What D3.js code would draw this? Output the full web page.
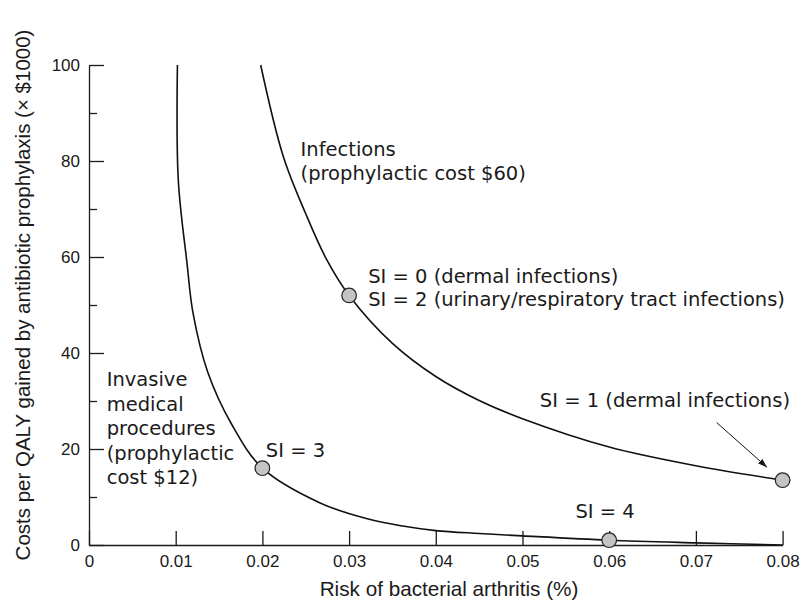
<!DOCTYPE html>
<html>
<head>
    <meta charset="utf-8">
    <script src="https://d3js.org/d3.v7.min.js"></script>
    <style>
        body { margin: 0; background: #fff; }
        text { fill: #1a1a1a; }
    </style>
</head>
<body>
<script>
    // risk of bacterial arthritis (%) vs cost per QALY (x $1000)
    let invasiveRisk = [0.0102, 0.0103, 0.0113, 0.0120, 0.0137, 0.0165, 0.0200, 0.0266, 0.0320, 0.0360, 0.0400, 0.0450, 0.0500, 0.0600, 0.0700, 0.0800];
    let invasiveCost = [100, 76.0, 58.8, 48.3, 36.0, 25.0, 16.0, 8.8, 5.5, 4.0, 3.0, 2.4, 1.9, 1.0, 0.45, 0];

    let infectRisk = [0.0198, 0.0224, 0.0250, 0.0274, 0.0300, 0.0350, 0.0400, 0.0450, 0.0500, 0.0600, 0.0700, 0.0800];
    let infectCost = [100, 81.0, 69.0, 59.5, 52.0, 42.0, 35.1, 30.1, 26.3, 20.4, 16.5, 13.5];

    // the marked SI points
    let siRisk = [0.02, 0.03, 0.06, 0.08];
    let siCost = [16, 52, 1, 13.5];

    let xTicks = [0, 0.01, 0.02, 0.03, 0.04, 0.05, 0.06, 0.07, 0.08];
    let xTickLabels = ["0", "0.01", "0.02", "0.03", "0.04", "0.05", "0.06", "0.07", "0.08"];
    let yTicks = [0, 20, 40, 60, 80, 100];
    let yTickLabels = ["0", "20", "40", "60", "80", "100"];
    let yMinorTicks = [10, 30, 50, 70, 90];

    let width = 802, height = 601;
    let axisFont = "'Liberation Sans', Arial, sans-serif";
    let noteFont = "'DejaVu Sans', sans-serif";

    let svg = d3.select("body").append("svg")
        .attr("width", width)
        .attr("height", height);

    let x = d3.scaleLinear().domain([0, 0.08]).range([89, 782.6]);
    let y = d3.scaleLinear().domain([0, 100]).range([545, 65]);

    // axes, ticks pointing inwards
    let xAxis = d3.axisBottom(x)
        .tickValues(xTicks)
        .tickFormat((d, i) => xTickLabels[i])
        .tickSizeInner(-14)
        .tickSizeOuter(0)
        .tickPadding(10);
    let gx = svg.append("g").attr("transform", "translate(0,545)").call(xAxis);

    let yAxis = d3.axisLeft(y)
        .tickValues(yTicks)
        .tickFormat((d, i) => yTickLabels[i])
        .tickSizeInner(-15)
        .tickSizeOuter(0)
        .tickPadding(9);
    let gy = svg.append("g").attr("transform", "translate(89,0)").call(yAxis);

    let gyMinor = svg.append("g").attr("transform", "translate(89,0)")
        .call(d3.axisLeft(y).tickValues(yMinorTicks).tickSizeInner(-8).tickSizeOuter(0).tickFormat(""));
    gyMinor.select(".domain").remove();

    [gx, gy, gyMinor].forEach(g => {
        g.selectAll("path, line").attr("stroke", "#1a1a1a").attr("stroke-width", 1.3);
        g.selectAll("text").style("font-size", "17px").style("font-family", axisFont).style("fill", "#1a1a1a");
    });

    // axis titles
    svg.append("text")
        .attr("x", 449).attr("y", 596)
        .attr("text-anchor", "middle")
        .style("font-family", axisFont)
        .style("font-size", "20.7px")
        .text("Risk of bacterial arthritis (%)");

    svg.append("text")
        .attr("transform", "translate(30,295) rotate(-90)")
        .attr("text-anchor", "middle")
        .style("font-family", axisFont)
        .style("font-size", "20.5px")
        .text("Costs per QALY gained by antibiotic prophylaxis (\u00d7 $1000)");

    // curves
    let line = d3.line()
        .x(d => x(d[0]))
        .y(d => y(d[1]))
        .curve(d3.curveCatmullRom.alpha(0.5));

    let invasive = d3.zip(invasiveRisk, invasiveCost);
    let infect = d3.zip(infectRisk, infectCost);

    svg.selectAll("path.curve")
        .data([invasive, infect])
        .join("path")
        .attr("class", "curve")
        .attr("d", line)
        .attr("fill", "none")
        .attr("stroke", "#111")
        .attr("stroke-width", 1.6);

    // arrow to SI = 1
    svg.append("defs").append("marker")
        .attr("id", "head")
        .attr("viewBox", "0 0 10 10")
        .attr("refX", 10).attr("refY", 5)
        .attr("markerWidth", 9).attr("markerHeight", 9)
        .attr("markerUnits", "userSpaceOnUse")
        .attr("orient", "auto")
        .append("path")
        .attr("d", "M0,1.5 L10,5 L0,8.5 Z")
        .attr("fill", "#111");

    svg.append("line")
        .attr("x1", x(0.0724)).attr("y1", y(25.5))
        .attr("x2", x(0.0782)).attr("y2", y(16.2))
        .attr("stroke", "#111")
        .attr("stroke-width", 1)
        .attr("marker-end", "url(#head)");

    // SI points
    svg.selectAll("circle")
        .data(d3.zip(siRisk, siCost))
        .join("circle")
        .attr("cx", d => x(d[0]))
        .attr("cy", d => y(d[1]))
        .attr("r", 7.3)
        .attr("fill", "#c4c4c4")
        .attr("stroke", "#222")
        .attr("stroke-width", 1.2);

    // annotations: anchor in data units, extra lines step down in px
    let notes = [
        { at: [0.0244, 81.1], lines: ["Infections", "(prophylactic cost $60)"], step: 24 },
        { at: [0.0322, 54.6], lines: ["SI = 0 (dermal infections)", "SI = 2 (urinary/respiratory tract infections)"], step: 23.5 },
        { at: [0.0520, 28.75], lines: ["SI = 1 (dermal infections)"], step: 0 },
        { at: [0.0204, 18.4], lines: ["SI = 3"], step: 0 },
        { at: [0.0561, 5.56], lines: ["SI = 4"], step: 0 },
        { at: [0.00204, 33.1], lines: ["Invasive", "medical", "procedures", "(prophylactic", "cost $12)"], step: 24.5 }
    ];

    notes.forEach(n => {
        let t = svg.append("text")
            .attr("x", x(n.at[0]))
            .attr("y", y(n.at[1]))
            .style("font-family", noteFont)
            .style("font-size", "19.5px");
        n.lines.forEach((s, i) => {
            t.append("tspan")
                .attr("x", x(n.at[0]))
                .attr("y", y(n.at[1]) + i * n.step)
                .text(s);
        });
    });
</script>
</body>
</html>
